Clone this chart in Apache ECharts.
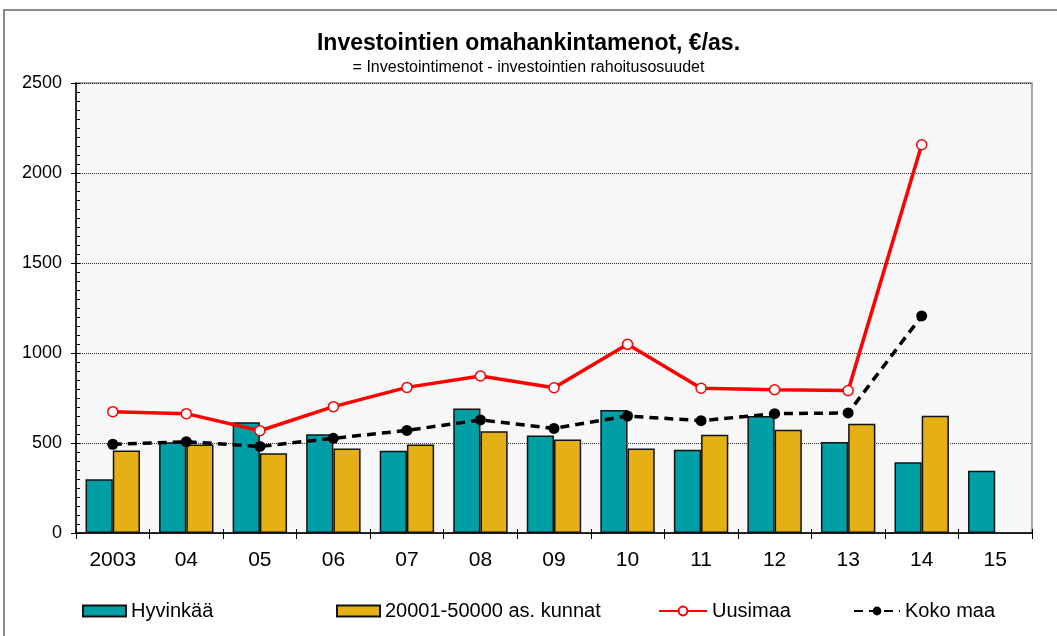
<!DOCTYPE html>
<html>
<head>
<meta charset="utf-8">
<script src="https://cdn.jsdelivr.net/npm/echarts@6/dist/echarts.min.js"></script>
<style>
  html, body { margin: 0; padding: 0; background: #fff; }
  #chart { width: 1057px; height: 636px; }
</style>
</head>
<body>
<div id="chart"></div>
<script>
// Vuodet (2003 ja sen jälkeen kaksinumeroisina)
const years = ['2003', '04', '05', '06', '07', '08', '09', '10', '11', '12', '13', '14', '15'];

// Investointien omahankintamenot, €/asukas
const hyvinkaa = [298, 504, 615, 548, 457, 691, 541, 683, 463, 650, 506, 393, 346];
const kunnat20to50k = [459, 491, 443, 470, 491, 565, 519, 470, 546, 574, 607, 652, null];
const uusimaa = [674, 663, 568, 702, 809, 872, 807, 1048, 804, 796, 791, 2157, null];
const kokoMaa = [493, 507, 481, 526, 570, 628, 581, 650, 624, 663, 667, 1206, null];

// Y-akselin jaotus
const yMin = 0, yMax = 2500, yStep = 500, yMinorStep = 50;

const FONT = 'Liberation Sans, Arial, sans-serif';
const TEAL = '#009FA6';
const GOLD = '#E4B013';

const chart = echarts.init(document.getElementById('chart'), null, { renderer: 'canvas' });

const legendBase = {
  orient: 'horizontal',
  top: 601,
  padding: 0,
  itemWidth: 43,
  itemHeight: 11,
  textStyle: { fontFamily: FONT, fontSize: 20, color: '#000', padding: [0, 0, 0, 0] },
  selectedMode: false
};

chart.setOption({
  backgroundColor: '#fff',
  animation: false,
  graphic: [{
    type: 'rect',
    shape: { x: 4, y: 10, width: 1120, height: 700 },
    style: { fill: 'none', stroke: '#8a8a8a', lineWidth: 2 },
    silent: true,
    z: -10
  }],
  title: [{
    text: 'Investointien omahankintamenot, €/as.',
    left: 'center',
    top: 32,
    padding: 0,
    textStyle: { fontFamily: FONT, fontSize: 23, fontWeight: 'bold', color: '#000' }
  }, {
    text: '= Investointimenot - investointien rahoitusosuudet',
    left: 'center',
    top: 60,
    padding: 0,
    textStyle: { fontFamily: FONT, fontSize: 16, fontWeight: 'normal', color: '#000' }
  }],
  legend: [
    Object.assign({}, legendBase, { left: 82, data: [{ name: 'Hyvinkää', icon: 'rect' }] }),
    Object.assign({}, legendBase, { left: 336, data: [{ name: '20001-50000 as. kunnat', icon: 'rect' }] }),
    Object.assign({}, legendBase, { left: 658, itemWidth: 48, data: ['Uusimaa'] }),
    Object.assign({}, legendBase, { left: 853, itemWidth: 46, data: ['Koko maa'] })
  ],
  grid: {
    left: 76,
    right: 25,
    top: 83,
    bottom: 103,
    show: true,
    backgroundColor: '#f7f7f7',
    borderColor: '#8c8c8c',
    borderWidth: 1.5
  },
  xAxis: [{
    type: 'category',
    data: years,
    boundaryGap: true,
    axisLine: { show: true, lineStyle: { color: '#000', width: 1.5 } },
    axisTick: { show: true, alignWithLabel: false, length: 6, lineStyle: { color: '#000', width: 1 } },
    axisLabel: { fontFamily: FONT, fontSize: 21, color: '#000', margin: 17 },
    splitLine: { show: false }
  }, {
    // lyhyet sisäpuoliset merkit kategorioiden välissä
    type: 'category',
    data: years,
    position: 'bottom',
    boundaryGap: true,
    axisLine: { show: false },
    axisTick: { show: true, inside: true, length: 4, lineStyle: { color: '#000', width: 1 } },
    axisLabel: { show: false },
    splitLine: { show: false }
  }],
  yAxis: [{
    type: 'value',
    min: yMin,
    max: yMax,
    interval: yStep,
    axisLine: { show: true, lineStyle: { color: '#000', width: 1.5 } },
    axisTick: { show: true, length: 5, lineStyle: { color: '#000', width: 1 } },
    axisLabel: { fontFamily: FONT, fontSize: 18, color: '#000', margin: 14, formatter: v => String(v) },
    splitLine: { show: true, lineStyle: { color: '#333', type: [1, 1], width: 1 } }
  }, {
    // välimerkit 50 välein akselin sisäpuolella
    type: 'value',
    position: 'left',
    min: yMin,
    max: yMax,
    interval: yMinorStep,
    axisLine: { show: false },
    axisTick: { show: true, inside: true, length: 4, lineStyle: { color: '#000', width: 1 } },
    axisLabel: { show: false },
    splitLine: { show: false }
  }],
  series: [{
    name: 'Hyvinkää',
    type: 'bar',
    data: hyvinkaa,
    barGap: '0%',
    barCategoryGap: '26%',
    itemStyle: { color: TEAL, borderColor: '#111', borderWidth: 1.5 },
    z: 2
  }, {
    name: '20001-50000 as. kunnat',
    type: 'bar',
    data: kunnat20to50k,
    barGap: '0%',
    barCategoryGap: '26%',
    itemStyle: { color: GOLD, borderColor: '#111', borderWidth: 1.5 },
    z: 2
  }, {
    name: 'Uusimaa',
    type: 'line',
    data: uusimaa,
    symbol: 'circle',
    symbolSize: 10,
    showAllSymbol: true,
    lineStyle: { color: '#ff0000', width: 3.5 },
    itemStyle: { color: '#fff', borderColor: '#ff0000', borderWidth: 1.5 },
    z: 4
  }, {
    name: 'Koko maa',
    type: 'line',
    data: kokoMaa,
    symbol: 'circle',
    symbolSize: 11,
    showAllSymbol: true,
    lineStyle: { color: '#000', width: 3.5, type: [9, 6] },
    itemStyle: { color: '#000', borderColor: '#000', borderWidth: 0 },
    z: 3
  }]
});
</script>
</body>
</html>
